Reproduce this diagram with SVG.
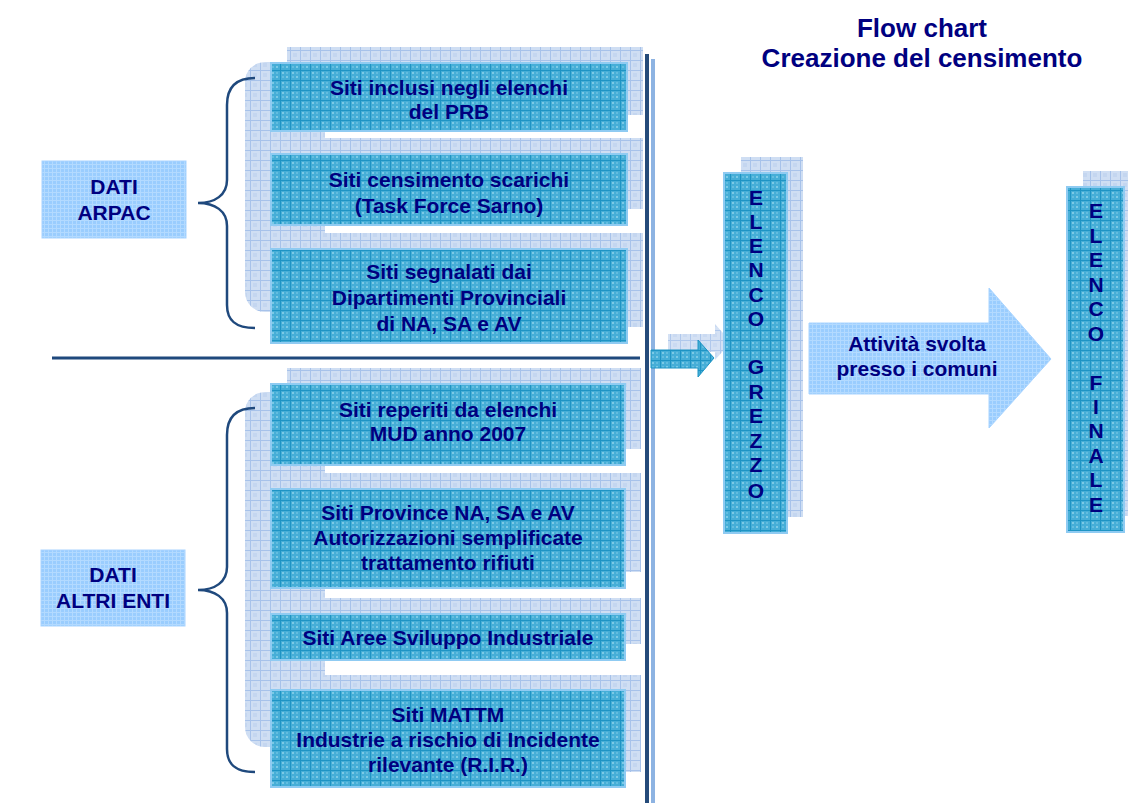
<svg xmlns="http://www.w3.org/2000/svg" width="1128" height="803" viewBox="0 0 1128 803">
<defs>
<pattern id="pFront" width="10" height="10" patternUnits="userSpaceOnUse">
<rect width="10" height="10" fill="#46AED7"/>
<rect x="2" y="2" width="2" height="2" fill="#7CCAE6"/>
<rect x="6" y="6" width="2" height="2" fill="#7CCAE6"/>
<rect x="6" y="2" width="2" height="2" fill="#62BDE0"/>
<rect x="2" y="6" width="2" height="2" fill="#62BDE0"/>
<path d="M0 0.5H10M0.5 0V10" stroke="#1E94C4" stroke-width="1"/>
</pattern>
<pattern id="pBack" width="10" height="10" patternUnits="userSpaceOnUse">
<rect width="10" height="10" fill="#CFDEF3"/>
<rect x="3" y="3" width="4" height="4" fill="#C4D6F0"/>
<path d="M0 0.5H10M0.5 0V10" stroke="#A7C2EA" stroke-width="1"/>
</pattern>
<pattern id="pLight" width="4" height="4" patternUnits="userSpaceOnUse">
<rect width="4" height="4" fill="#9ACDFE"/>
<path d="M0 0.5H4M0.5 0V4" stroke="#B3DAFF" stroke-width="1"/>
</pattern>
<style>
.front{fill:url(#pFront);stroke:#8FCBF2;stroke-width:2}
.back{fill:url(#pBack)}
.light{fill:url(#pLight);stroke:#A9D4FF;stroke-width:1}
.t{font-family:"Liberation Sans",Arial,sans-serif;font-weight:bold;font-size:21px;fill:#000080;text-anchor:middle}
.v{font-family:"Liberation Sans",Arial,sans-serif;font-weight:bold;font-size:21px;fill:#000080;text-anchor:middle}
.title{font-family:"Liberation Sans",Arial,sans-serif;font-weight:bold;font-size:26px;fill:#000080;text-anchor:middle}
.brace{fill:none;stroke:#1F497D;stroke-width:2.5}
</style>
</defs>
<rect width="1128" height="803" fill="#FFFFFF"/>

<g id="title">
<text class="title" x="922" y="37">Flow chart</text>
<text class="title" x="922" y="67">Creazione del censimento</text>
</g>

<g id="panels">
<rect class="back" x="245" y="62" width="80" height="250" rx="20"/>
<rect class="back" x="245" y="392" width="80" height="355" rx="20"/>
</g>

<g id="connectors">
<path class="brace" d="M255,78 C235,78 227,88 227,105 L227,180 C227,195 215,203 198,203 C215,203 227,211 227,226 L227,305 C227,320 235,328 255,328"/>
<path class="brace" d="M255,408 C235,408 227,418 227,435 L227,567 C227,582 215,590 198,590 C215,590 227,598 227,613 L227,749 C227,764 235,772 255,772"/>
<line x1="52" y1="358" x2="640" y2="358" stroke="#1F497D" stroke-width="3"/>
<line x1="647" y1="54" x2="647" y2="803" stroke="#254B7A" stroke-width="4"/>
<line x1="653" y1="59" x2="653" y2="803" stroke="#8DB3E2" stroke-width="4"/>
<polygon points="668,334 715,334 715,324 731,342 715,360 715,352 668,352" fill="url(#pBack)" opacity="0.9"/>
<polygon points="651,350 698,350 698,340 714,358 698,377 698,368 651,368" fill="url(#pFront)" stroke="#1E94C4" stroke-width="1"/>
</g>

<g id="dati-arpac">
<rect class="light" x="42" y="161" width="144" height="77"/>
<text class="t" x="114" y="194">DATI</text>
<text class="t" x="114" y="220">ARPAC</text>
</g>

<g id="dati-altri">
<rect class="light" x="41" y="550" width="144" height="76"/>
<text class="t" x="113" y="582">DATI</text>
<text class="t" x="113" y="608">ALTRI ENTI</text>
</g>

<g id="box-prb">
<rect class="back" x="287" y="47" width="356" height="68"/>
<rect class="front" x="271" y="63" width="356" height="68"/>
<text class="t" x="449" y="95">Siti inclusi negli elenchi</text>
<text class="t" x="449" y="119">del PRB</text>
</g>

<g id="box-scarichi">
<rect class="back" x="287" y="138" width="356" height="71"/>
<rect class="front" x="271" y="154" width="356" height="71"/>
<text class="t" x="449" y="187">Siti censimento scarichi</text>
<text class="t" x="449" y="213">(Task Force Sarno)</text>
</g>

<g id="box-dipartimenti">
<rect class="back" x="287" y="233" width="356" height="94"/>
<rect class="front" x="271" y="249" width="356" height="94"/>
<text class="t" x="449" y="279">Siti segnalati dai</text>
<text class="t" x="449" y="305">Dipartimenti Provinciali</text>
<text class="t" x="449" y="331">di NA, SA e AV</text>
</g>

<g id="box-mud">
<rect class="back" x="287" y="368" width="354" height="81"/>
<rect class="front" x="271" y="384" width="354" height="81"/>
<text class="t" x="448" y="417">Siti reperiti da elenchi</text>
<text class="t" x="448" y="441">MUD anno 2007</text>
</g>

<g id="box-province">
<rect class="back" x="287" y="473" width="354" height="99"/>
<rect class="front" x="271" y="489" width="354" height="99"/>
<text class="t" x="448" y="520">Siti Province NA, SA e AV</text>
<text class="t" x="448" y="545">Autorizzazioni semplificate</text>
<text class="t" x="448" y="570">trattamento rifiuti</text>
</g>

<g id="box-asi">
<rect class="back" x="287" y="598" width="354" height="46"/>
<rect class="front" x="271" y="614" width="354" height="46"/>
<text class="t" x="448" y="645">Siti Aree Sviluppo Industriale</text>
</g>

<g id="box-mattm">
<rect class="back" x="287" y="675" width="354" height="97"/>
<rect class="front" x="271" y="690" width="354" height="97"/>
<text class="t" x="448" y="722">Siti MATTM</text>
<text class="t" x="448" y="747">Industrie a rischio di Incidente</text>
<text class="t" x="448" y="772">rilevante (R.I.R.)</text>
</g>

<g id="elenco-grezzo">
<rect class="back" x="741" y="157" width="62" height="360"/>
<rect class="front" x="724" y="173" width="63" height="360"/>
<text class="v" x="756" y="205">E</text>
<text class="v" x="756" y="229">L</text>
<text class="v" x="756" y="253">E</text>
<text class="v" x="756" y="277">N</text>
<text class="v" x="756" y="302">C</text>
<text class="v" x="756" y="326">O</text>
<text class="v" x="756" y="374">G</text>
<text class="v" x="756" y="399">R</text>
<text class="v" x="756" y="423">E</text>
<text class="v" x="756" y="448">Z</text>
<text class="v" x="756" y="472">Z</text>
<text class="v" x="756" y="498">O</text>
</g>

<g id="attivita">
<polygon class="light" points="809,323 989,323 989,288 1051,359 989,428 989,394 809,394"/>
<text class="t" x="917" y="351">Attività svolta</text>
<text class="t" x="917" y="376">presso i comuni</text>
</g>

<g id="elenco-finale">
<rect class="back" x="1083" y="171" width="50" height="345"/>
<rect class="front" x="1067" y="187" width="57" height="345"/>
<text class="v" x="1096" y="218">E</text>
<text class="v" x="1096" y="243">L</text>
<text class="v" x="1096" y="267">E</text>
<text class="v" x="1096" y="292">N</text>
<text class="v" x="1096" y="316">C</text>
<text class="v" x="1096" y="341">O</text>
<text class="v" x="1096" y="390">F</text>
<text class="v" x="1096" y="414">I</text>
<text class="v" x="1096" y="438">N</text>
<text class="v" x="1096" y="463">A</text>
<text class="v" x="1096" y="487">L</text>
<text class="v" x="1096" y="512">E</text>
</g>
</svg>
